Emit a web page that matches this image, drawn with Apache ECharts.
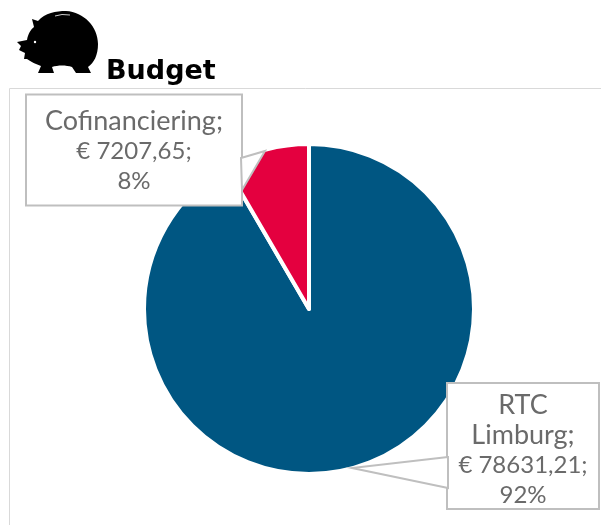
<!DOCTYPE html>
<html>
<head>
<meta charset="utf-8">
<title>Budget</title>
<script src="https://cdn.jsdelivr.net/npm/echarts@6/dist/echarts.min.js"></script>
<style>
  html, body { margin: 0; padding: 0; background: #fff; overflow: hidden; }
  #chart { width: 601px; height: 525px; }
</style>
</head>
<body>
<div id="chart"></div>
<script>
const categories = ['RTC Limburg', 'Cofinanciering'];
const budgetValues = [78631.21, 7207.65];
const sliceColors = ['#005682', '#e4003f'];
const labelFont = 'Lato, "Noto Sans", sans-serif';

const pigPath = 'M32 19 L38 21 C45 13 56 11 66 11 C84 12 98 27 98 44 C98 55 94 63 88 67 L91 73 L76 73 L72 67 C66 65 58 65 52 67 L54 73 L38 73 L41 66 C36 64 31 62 27 59 L24 59 L25 53 L19 50 L21 46 L17 42 L27 40 C28 34 31 29 34 27 Z';
echarts.graphic.registerShape('pig', echarts.graphic.extendPath(pigPath, {}));

const chart = echarts.init(document.getElementById('chart'));

chart.setOption({
  animation: false,
  title: {
    text: 'Budget',
    left: 101,
    top: 53,
    textStyle: { fontFamily: '"DejaVu Sans", sans-serif', fontSize: 27, fontWeight: 'bold', color: '#000' }
  },
  graphic: [
    // chart frame runs off the page on the right and bottom
    { type: 'rect', z: 0, shape: { x: 9.5, y: 88.5, width: 640, height: 480 },
      style: { fill: 'none', stroke: '#d9d9d9', lineWidth: 1 } },
    { type: 'pig', z: 5, style: { fill: '#000' } },
    { type: 'circle', z: 6, shape: { cx: 35, cy: 42, r: 1.2 }, style: { fill: '#fff' } },
    { type: 'polyline', z: 6, shape: { points: [[55, 16], [62, 14.5], [70, 15]] },
      style: { fill: 'none', stroke: '#fff', lineWidth: 0.8 } },
    // callout pointers, the boxes themselves are the series labels
    { type: 'polygon', z: 5, shape: { points: [[241, 158], [265, 151], [242, 190]] },
      style: { fill: '#fff', stroke: '#bfbfbf', lineWidth: 2 } },
    { type: 'polygon', z: 5, shape: { points: [[448, 457], [352, 468], [448, 488]] },
      style: { fill: '#fff', stroke: '#bfbfbf', lineWidth: 2 } }
  ],
  series: [{
    type: 'pie',
    center: [309, 309],
    radius: [0, 165],
    startAngle: 90,
    percentPrecision: 0,
    silent: true,
    data: categories.map((name, i) => ({
      name: name,
      value: budgetValues[i],
      itemStyle: { color: sliceColors[i] },
      label: { padding: [i === 0 ? 6 : 11, 0, 0, 0] }
    })),
    itemStyle: { borderColor: '#fff', borderWidth: 4 },
    labelLine: { show: false },
    label: {
      show: true,
      position: 'outside',
      formatter: p => p.name.split(' ').map((w, i, a) => '{n|' + w + (i === a.length - 1 ? ';' : '') + '}').join('\n')
        + '\n€ ' + String(p.value).replace('.', ',') + ';\n' + p.percent + '%',
      fontFamily: labelFont,
      fontSize: 24,
      lineHeight: 30,
      color: '#6a6a6a',
      align: 'center',
      verticalAlign: 'middle',
      backgroundColor: '#fff',
      borderColor: '#bfbfbf',
      borderWidth: 2,
      rich: {
        n: { fontFamily: labelFont, fontSize: 27, lineHeight: 30, color: '#6a6a6a', align: 'center' }
      }
    },
    labelLayout: p => p.dataIndex === 0
      ? { x: 523, y: 446, width: 150, height: 118, align: 'center', verticalAlign: 'middle' }
      : { x: 134, y: 150, width: 214, height: 98, align: 'center', verticalAlign: 'middle' }
  }]
});
</script>
</body>
</html>
